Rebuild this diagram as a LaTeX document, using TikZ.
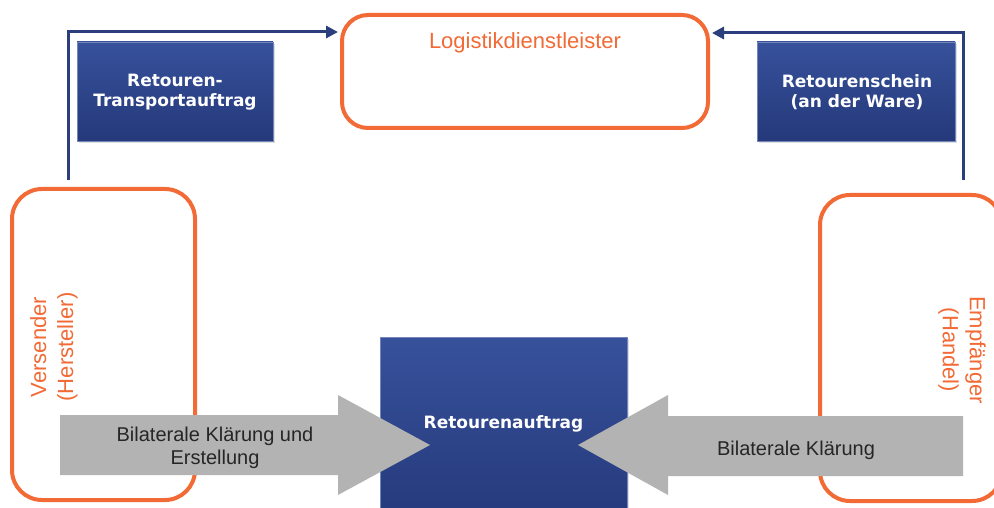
\documentclass[tikz,border=0pt]{standalone}
\usepackage{fontspec}
\setmainfont{Liberation Sans}
\newfontfamily\boxfont{DejaVu Sans}
\usetikzlibrary{arrows.meta,shadows}
\definecolor{orng}{HTML}{F26A35}
\definecolor{navy}{HTML}{2B3F7C}
\definecolor{bluetop}{HTML}{37519B}
\definecolor{bluebot}{HTML}{25397A}
\definecolor{arrgray}{HTML}{B3B3B3}
\begin{document}
\begin{tikzpicture}[x=1pt,y=-1pt,
  orangebox/.style={draw=orng, line width=4pt, rounded corners=26pt, fill=white, inner sep=0pt},
  orangetext/.style={text=orng, font=\fontsize{22}{27}\selectfont, align=center, inner sep=0pt},
  bluebox/.style={top color=bluetop, bottom color=bluebot, draw=bluetop!70!white, line width=0.6pt,
    inner sep=0pt, drop shadow={shadow xshift=2pt, shadow yshift=-2pt, opacity=0.25}},
  bluetext/.style={text=white, font=\boxfont\bfseries\fontsize{17}{20}\selectfont, align=center, inner sep=0pt},
  conn/.style={draw=navy, line width=3pt, -{Triangle[length=12pt,width=12pt]}},
  grayarrow/.style={fill=arrgray, draw=none},
  graytext/.style={text=black!85, font=\fontsize{20}{23}\selectfont, align=center, inner sep=0pt}]
\useasboundingbox (0,0) rectangle (994,508);

% orange boxes
\node[orangebox, minimum width=366pt, minimum height=113pt] (logi) at (525,71.5) {};
\node[orangetext] (logit) at (525,43) {Logistikdienstleister};
\node[orangebox, rounded corners=30pt, minimum width=183pt, minimum height=311pt] (vers) at (103.5,344.5) {};
\node[orangetext, rotate=90] (verst) at (54,347) {Versender\\(Hersteller)};
\node[orangebox, rounded corners=30pt, minimum width=182pt, minimum height=306pt] (empf) at (911,348) {};
\node[orangetext, rotate=-90] (empft) at (962,350) {Empfänger\\(Handel)};

% connectors
\coordinate (ls) at (68,180);
\coordinate (le) at (338,32);
\coordinate (rs) at (963,180);
\coordinate (re) at (712,33);
\draw[conn] (ls) |- (le);
\draw[conn] (rs) |- (re);

% blue boxes
\node[bluebox, minimum width=196pt, minimum height=99pt] (rta) at (175,91.5) {};
\node[bluetext] (rtat) at (175,92) {Retouren-\\Transportauftrag};
\node[bluebox, minimum width=198pt, minimum height=99pt] (rs2) at (856,91.5) {};
\node[bluetext] (rs2t) at (857,92) {Retourenschein\\(an der Ware)};
\node[bluebox, minimum width=247pt, minimum height=190pt] (rauf) at (503.5,432) {};
\node[bluetext] (rauft) at (503.5,424) {Retourenauftrag};

% gray arrows
\path[grayarrow] (60,415) -- (338,415) -- (338,395) -- (430,445) -- (338,495) -- (338,475) -- (60,475) -- cycle;
\path[grayarrow] (963,416) -- (668,416) -- (668,395) -- (578,445) -- (668,495) -- (668,476) -- (963,476) -- cycle;
\node[graytext] (lat) at (215,448) {Bilaterale Klärung und\\Erstellung};
\node[graytext] (rat) at (796,450) {Bilaterale Klärung};
\end{tikzpicture}
\end{document}
